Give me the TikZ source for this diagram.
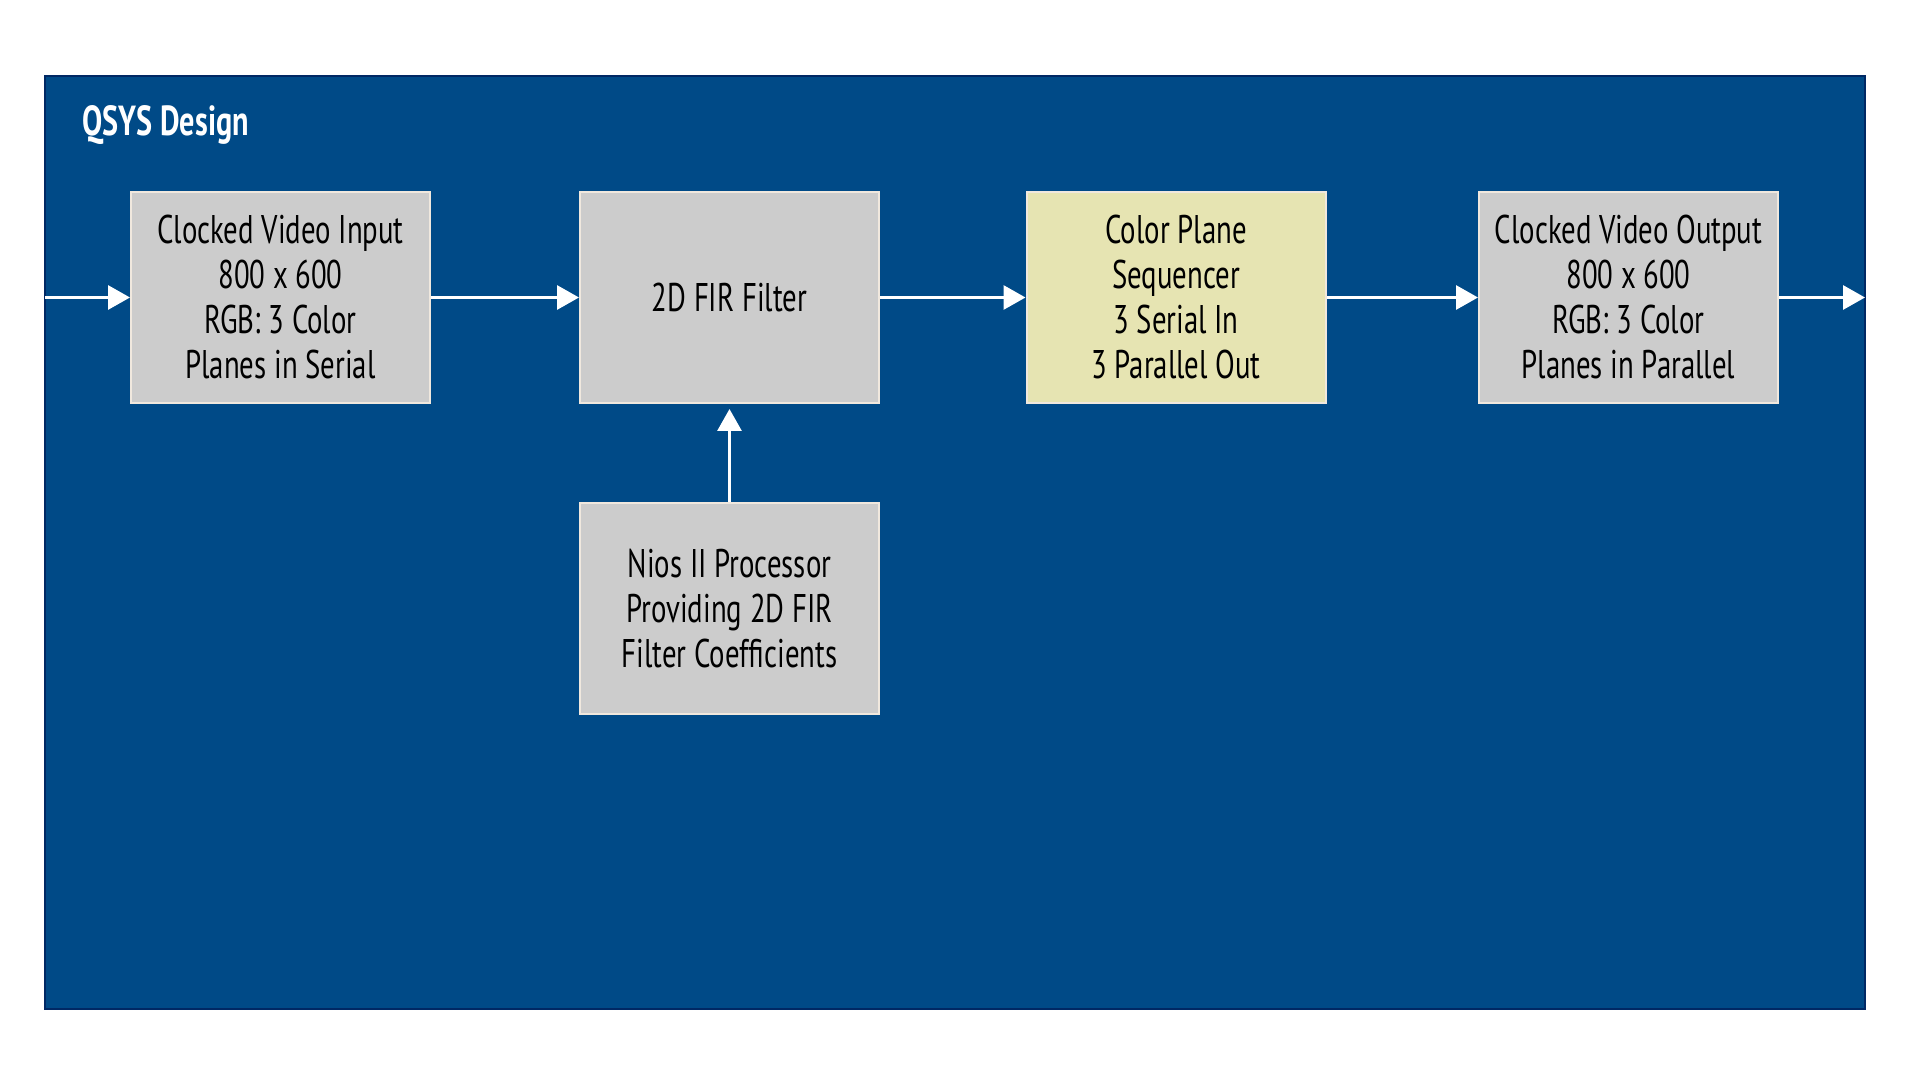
\documentclass[tikz,border=0pt]{standalone}
\usepackage{fontspec}
\setmainfont{PT Sans}[FakeStretch=0.72]
\usetikzlibrary{arrows.meta}
\definecolor{bgblue}{RGB}{0,74,135}
\definecolor{edgeblue}{RGB}{0,40,100}
\definecolor{boxgray}{RGB}{204,204,204}
\definecolor{boxyellow}{RGB}{230,228,178}
\definecolor{boxedge}{RGB}{240,232,222}
\begin{document}
\begin{tikzpicture}[x=1pt,y=1pt,
  blockbox/.style={draw=boxedge, line width=2pt, minimum width=299pt, minimum height=211pt,
    inner sep=0pt, align=center, font=\fontsize{40}{45}\selectfont, text=black},
  flow/.style={draw=white, line width=3pt, -{Triangle[length=22pt,width=24pt]}}]
\useasboundingbox (0,0) rectangle (1920,1080);
\fill[white] (0,0) rectangle (1920,1080);
\draw[fill=bgblue, draw=edgeblue, line width=1.5pt] (45,71) rectangle (1865,1004);
\node[anchor=west, text=white, font=\fontsize{42}{44}\selectfont\bfseries] (title) at (79,955) {QSYS Design};
\node[blockbox, fill=boxgray] (cvi) at (280.5,782.5) {Clocked Video Input\\800 x 600\\RGB: 3 Color\\Planes in Serial};
\node[blockbox, fill=boxgray] (fir) at (729.5,782.5) {2D FIR Filter};
\node[blockbox, fill=boxyellow] (cps) at (1176,782.5) {Color Plane\\Sequencer\\3 Serial In\\3 Parallel Out};
\node[blockbox, fill=boxgray] (cvo) at (1628.5,782.5) {Clocked Video Output\\800 x 600\\RGB: 3 Color\\Planes in Parallel};
\node[blockbox, fill=boxgray] (nios) at (729.5,471) {Nios II Processor\\Providing 2D FIR\\Filter Coefficients};
\coordinate (inL) at (45,782.5);
\coordinate (outR) at (1865,782.5);
\draw[flow] (inL) -- (cvi.west);
\draw[flow] (cvi.east) -- (fir.west);
\draw[flow] (fir.east) -- (cps.west);
\draw[flow] (cps.east) -- (cvo.west);
\draw[flow] (cvo.east) -- (outR);
\draw[flow, shorten >=5pt] (nios.north) -- (fir.south);
\end{tikzpicture}
\end{document}
